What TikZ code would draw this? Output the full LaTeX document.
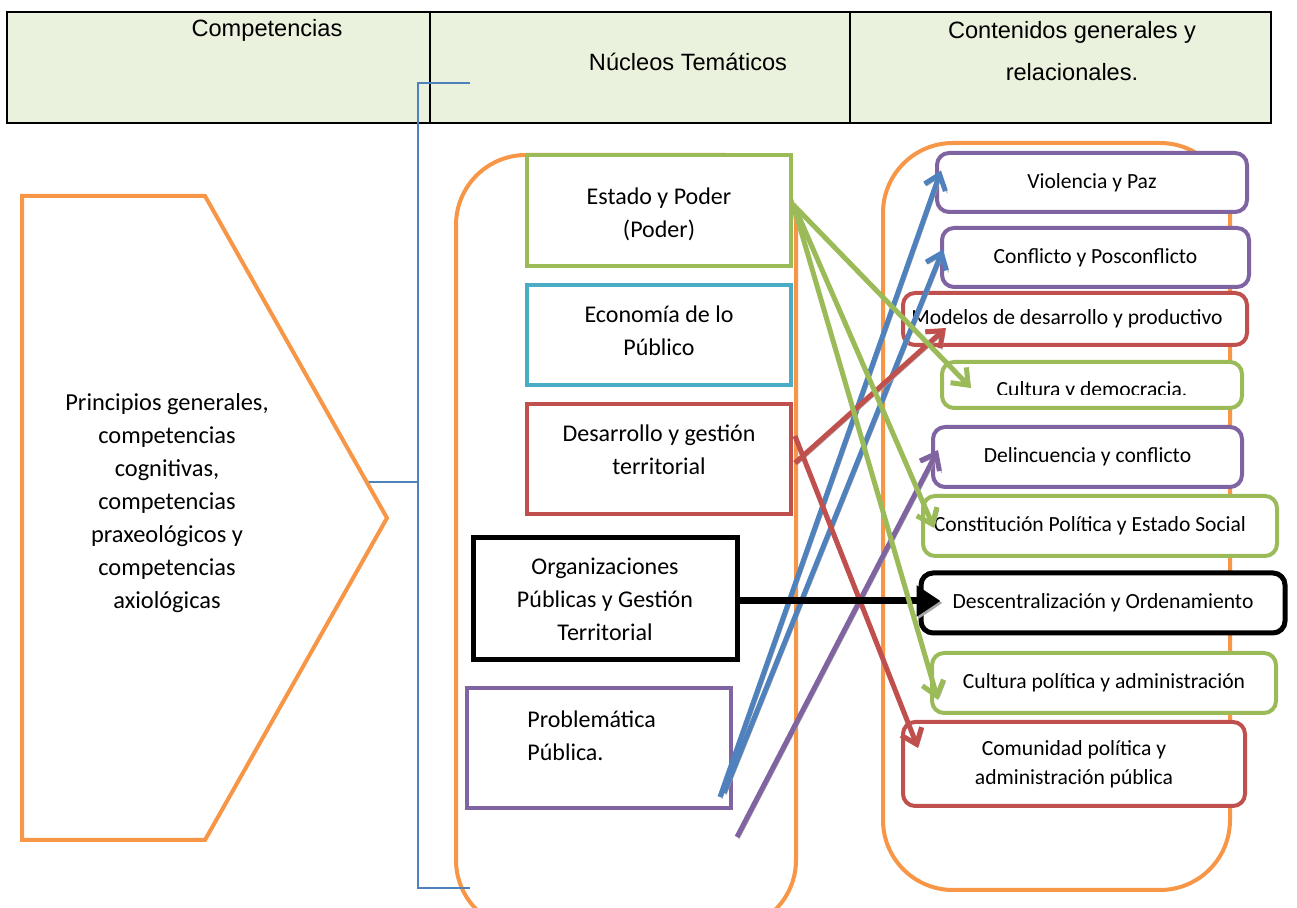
\documentclass[tikz,border=0pt]{standalone}
\usepackage{fontspec}
\setmainfont{Carlito}
\newfontfamily\arialf{Liberation Sans}
\usetikzlibrary{arrows.meta}
\definecolor{orng}{HTML}{F79646}
\definecolor{grn}{HTML}{9BBB59}
\definecolor{aqua}{HTML}{4BACC6}
\definecolor{rd}{HTML}{C0504D}
\definecolor{purp}{HTML}{8064A2}
\definecolor{blu}{HTML}{4F81BD}
\definecolor{hdrfill}{HTML}{EAF1DD}
\tikzset{
  mbox/.style={draw, line width=2pt, fill=white, rectangle, inner sep=0pt,
    font=\fontsize{12}{16.5}\selectfont, align=center},
  mtxt/.style={font=\fontsize{12}{16.5}\selectfont, align=center, inner sep=0pt},
  rbox/.style={draw, line width=2pt, fill=white, rectangle, rounded corners=6pt, inner sep=0pt,
    font=\fontsize{10.8}{14.5}\selectfont, align=center},
  cont/.style={draw=orng, line width=2pt, rounded corners=35pt},
  brk/.style={draw=blu, line width=1pt},
  arr/.style={line width=2.5pt, -{Straight Barb[length=7pt,width=11pt]},
    preaction={draw=black!35, transform canvas={xshift=1pt,yshift=-1pt}}},
  karr/.style={line width=3.5pt, -{Triangle[length=12pt,width=15pt]},
    preaction={draw=black!35, transform canvas={xshift=1pt,yshift=-1pt}}},
  htxt/.style={font=\arialf\fontsize{11.8}{21}\selectfont, align=center, inner sep=0pt},
}
\begin{document}
\begin{tikzpicture}[x=0.5pt,y=-0.5pt]
\path[use as bounding box, clip] (0,0) rectangle (1297,908);
\fill[white] (0,0) rectangle (1297,908);

% header table
\draw[line width=1pt, fill=hdrfill] (7,12) rectangle (1271,123);
\draw[line width=1pt] (430,12) -- (430,123);
\draw[line width=1pt] (850,12) -- (850,123);
\node[htxt] (h1) at (267,30) {Competencias};
\node[htxt] (h2) at (688,62) {Núcleos Temáticos};
\node[htxt] (h3) at (1072,51) {Contenidos generales y\\relacionales.};

% containers
\draw[cont] (456,930) rectangle (796,155);
\draw[cont] (883,890) rectangle (1230,143);

% bracket
\coordinate (bt) at (470,83);
\coordinate (bb) at (470,888);
\coordinate (bm) at (367,482);
\coordinate (bj) at (418,482);
\draw[brk] (bt) -- (bt -| bj) -- (bb -| bj) -- (bb);
\draw[brk] (bm) -- (bj);

% pentagon
\draw[orng, line width=2pt, line join=miter] (22,196) -- (205,196) -- (387,518) -- (205,840) -- (22,840) -- cycle;
\node[font=\fontsize{12.2}{16.5}\selectfont, align=center] (princ) at (167,503)
  {Principios generales,\\competencias\\cognitivas,\\competencias\\praxeológicos y\\competencias\\axiológicas};

% middle boxes
\node[mbox, draw=grn, minimum width=132pt, minimum height=55.5pt] (estado) at (659,210.5) {};
\node[mtxt] (estadot) at (659,214) {Estado y Poder\\(Poder)};
\node[mbox, draw=aqua, minimum width=132pt, minimum height=50pt] (econ) at (659,335) {};
\node[mtxt] (econt) at (659,331) {Economía de lo\\Público};
\node[mbox, draw=rd, minimum width=132pt, minimum height=55pt] (desa) at (659,459) {};
\node[mtxt] (desat) at (659,450) {Desarrollo y gestión\\territorial};
\node[mbox, draw=black, line width=2.5pt, minimum width=132pt, minimum height=61pt] (org) at (605,599) {Organizaciones\\Públicas y Gestión\\Territorial};
\node[mbox, draw=purp, minimum width=132pt, minimum height=60pt] (prob) at (599,748) {};
\node[mtxt, align=left, anchor=west] (probt) at (527,736) {Problemática\\Pública.};

% right boxes
\node[rbox, draw=purp, minimum width=155pt, minimum height=29.5pt] (viol) at (1092,182.5) {Violencia y Paz};
\node[rbox, draw=purp, minimum width=153.5pt, minimum height=29.5pt] (conf) at (1095.5,257.5) {Conflicto y Posconflicto};
\node[rbox, draw=rd, minimum width=172pt, minimum height=26pt] (mod) at (1075,319) {\hspace*{-8pt}Modelos de desarrollo y productivo};
\node[rbox, draw=grn, minimum width=150pt, minimum height=23pt] (cultdem) at (1092,385) {};
\begin{scope}
\clip (942,362) rectangle (1242,395);
\node[font=\fontsize{10.8}{14.5}\selectfont, anchor=base, inner sep=0pt] (cultdemt) at (1092,397) {Cultura y democracia.};
\end{scope}
\node[rbox, draw=purp, minimum width=154.5pt, minimum height=30pt] (delin) at (1087.5,457) {Delincuencia y conflicto};
\node[rbox, draw=grn, minimum width=177pt, minimum height=30pt] (const) at (1100,526) {\hspace*{-10pt}Constitución Política y Estado Social};
\node[rbox, draw=black, line width=2.5pt, minimum width=182pt, minimum height=30pt] (desc) at (1103,603) {Descentralización y Ordenamiento};
\node[rbox, draw=grn, minimum width=172pt, minimum height=30pt] (cultpol) at (1104,683) {Cultura política y administración};
\node[rbox, draw=rd, minimum width=171pt, minimum height=42pt] (comun) at (1074,764) {Comunidad política y\\administración pública};

% arrows
\draw[arr, blu] ([xshift=-6.5pt,yshift=6.5pt]prob.south east) -- ([xshift=3pt,yshift=6pt]viol.west);
\draw[arr, blu] ([xshift=-4.5pt,yshift=8.5pt]prob.south east) -- ([xshift=1.5pt,yshift=4pt]conf.west);
\draw[arr, purp] ([xshift=2pt,yshift=-13.5pt]prob.south east) -- ([xshift=3.5pt,yshift=3.5pt]delin.west);
\draw[arr, rd] ([xshift=1pt,yshift=-2pt]desa.east) -- ([xshift=22.5pt,yshift=-4.5pt]mod.west);
\draw[arr, rd] ([xshift=1pt,yshift=11.5pt]desa.east) -- ([xshift=8.5pt,yshift=8pt]comun.west);
\draw[karr, black] ([yshift=-1pt]org.east) -- ([xshift=11pt,yshift=1pt]desc.west);
\draw[arr, grn] ([yshift=3pt]estado.east) -- ([xshift=15.5pt,yshift=-1.5pt]cultdem.west);
\draw[arr, grn] ([xshift=1pt,yshift=1.5pt]estado.east) -- ([xshift=6.5pt,yshift=-1pt]const.west);
\draw[arr, grn] ([xshift=1pt,yshift=0pt]estado.east) -- ([xshift=4pt,yshift=-8.5pt]cultpol.west);
\end{tikzpicture}
\end{document}
